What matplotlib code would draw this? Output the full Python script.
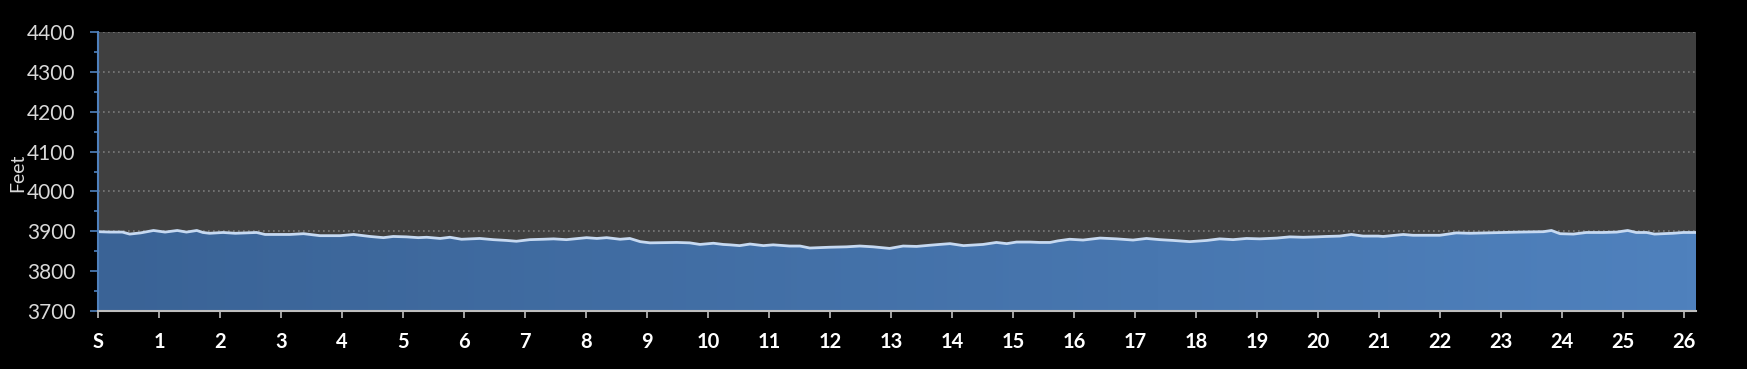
import matplotlib
matplotlib.use("Agg")
import matplotlib.pyplot as plt
import numpy as np
from matplotlib.colors import LinearSegmentedColormap
from matplotlib.ticker import MultipleLocator

# Elevation profile (miles, feet)
miles = [
    0.00, 0.20, 0.40, 0.52, 0.70, 0.91, 1.10, 1.30, 1.45, 1.62, 1.72, 1.83,
    2.05, 2.25, 2.60, 2.74, 3.15, 3.37, 3.64, 3.97, 4.19, 4.46, 4.68, 4.84,
    5.06, 5.25, 5.39, 5.61, 5.77, 5.96, 6.26, 6.48, 6.70, 6.86, 7.08, 7.30,
    7.47, 7.68, 8.01, 8.18, 8.34, 8.56, 8.72, 8.89, 9.05, 9.49, 9.70, 9.87,
    10.09, 10.25, 10.36, 10.52, 10.69, 10.91, 11.07, 11.34, 11.51, 11.67,
    12.00, 12.27, 12.49, 12.71, 12.98, 13.20, 13.42, 13.64, 13.80, 13.97,
    14.19, 14.51, 14.73, 14.90, 15.06, 15.28, 15.44, 15.61, 15.74, 15.93,
    16.15, 16.43, 16.70, 16.97, 17.19, 17.41, 17.63, 17.90, 18.18, 18.39,
    18.61, 18.83, 19.05, 19.33, 19.54, 19.76, 19.98, 20.14, 20.36, 20.55,
    20.74, 20.99, 21.07, 21.40, 21.56, 22.00, 22.27, 22.49, 23.04, 23.31,
    23.70, 23.83, 23.97, 24.19, 24.40, 24.68, 24.90, 25.08, 25.22, 25.39,
    25.52, 25.66, 25.82, 25.99, 26.20,
]
elevation = [
    3899, 3898, 3898, 3893, 3896, 3902, 3898, 3902, 3898, 3902, 3897, 3895,
    3897, 3895, 3897, 3892, 3892, 3894, 3889, 3889, 3892, 3887, 3884, 3887,
    3886, 3884, 3885, 3882, 3885, 3880, 3882, 3879, 3877, 3875, 3879, 3880,
    3881, 3879, 3884, 3882, 3884, 3880, 3882, 3874, 3871, 3872, 3871, 3867,
    3870, 3867, 3866, 3864, 3868, 3864, 3866, 3863, 3863, 3858,
    3860, 3861, 3863, 3861, 3857, 3863, 3862, 3865, 3867, 3869,
    3864, 3867, 3872, 3869, 3873, 3873, 3872, 3872, 3876, 3880,
    3878, 3883, 3881, 3878, 3882, 3879, 3877, 3874, 3877, 3881,
    3879, 3882, 3881, 3883, 3886, 3885, 3886, 3887, 3888, 3892,
    3888, 3888, 3887, 3892, 3890, 3890, 3896, 3895, 3897, 3898,
    3899, 3902, 3894, 3893, 3897, 3897, 3898, 3902, 3897, 3897,
    3893, 3894, 3895, 3897, 3897,
]
mile_ticks = list(range(0, 27))
mile_labels = ["S"] + [str(m) for m in range(1, 27)]

W, H = 1747, 369
fig = plt.figure(figsize=(W / 100, H / 100), dpi=100, facecolor="black")
ax = fig.add_axes([98 / W, 1 - 311 / H, (1696 - 98) / W, (311 - 32) / H])
ax.set_facecolor("#404040")

ax.set_xlim(0, 26.2)
ax.set_ylim(3700, 4400)

# gridlines
for y in range(3800, 4401, 100):
    ax.axhline(y, color="#7a7a7a", lw=1.2, ls=(0, (1, 2)), zorder=1)

# gradient-filled area under the profile
poly = ax.fill_between(miles, elevation, 3700, color="none", lw=0, zorder=2)
cmap = LinearSegmentedColormap.from_list("blues", ["#3a6396", "#4f81bd"])
grad = np.linspace(0, 1, 256).reshape(1, -1)
img = ax.imshow(grad, cmap=cmap, extent=[0, 26.2, 3700, 4400], aspect="auto",
                zorder=2, interpolation="bilinear")
img.set_clip_path(poly.get_paths()[0], transform=ax.transData)
ax.plot(miles, elevation, color="#c6d9f1", lw=2.0, zorder=3)

# spines
for s in ["top", "right"]:
    ax.spines[s].set_visible(False)
ax.spines["left"].set_color("#4f81bd")
ax.spines["left"].set_linewidth(1.5)
ax.spines["bottom"].set_color("#bfbfbf")
ax.spines["bottom"].set_linewidth(1.5)
ax.spines["left"].set_zorder(4)
ax.spines["bottom"].set_zorder(4)

ax.set_yticks(range(3700, 4401, 100))
ax.yaxis.set_minor_locator(MultipleLocator(50))
ax.tick_params(axis="y", which="major", colors="#4f81bd", length=6, width=1.2,
               labelcolor="#d9d9d9", labelsize=15, pad=10)
ax.tick_params(axis="y", which="minor", colors="#4f81bd", length=3, width=1.2)
ax.set_xticks(mile_ticks)
ax.set_xticklabels(mile_labels)
ax.tick_params(axis="x", colors="#bfbfbf", length=5, width=1.2,
               labelcolor="white", labelsize=14.5, pad=10)
for lbl in ax.get_xticklabels():
    lbl.set_fontweight("bold")
for lbl in ax.get_xticklabels() + ax.get_yticklabels():
    lbl.set_family("Lato")

ax.set_ylabel("Feet", color="#d9d9d9", fontsize=14, family="Lato")
ax.yaxis.set_label_coords(-0.045, 0.495)

fig.savefig("out.png", dpi=100, facecolor="black")
